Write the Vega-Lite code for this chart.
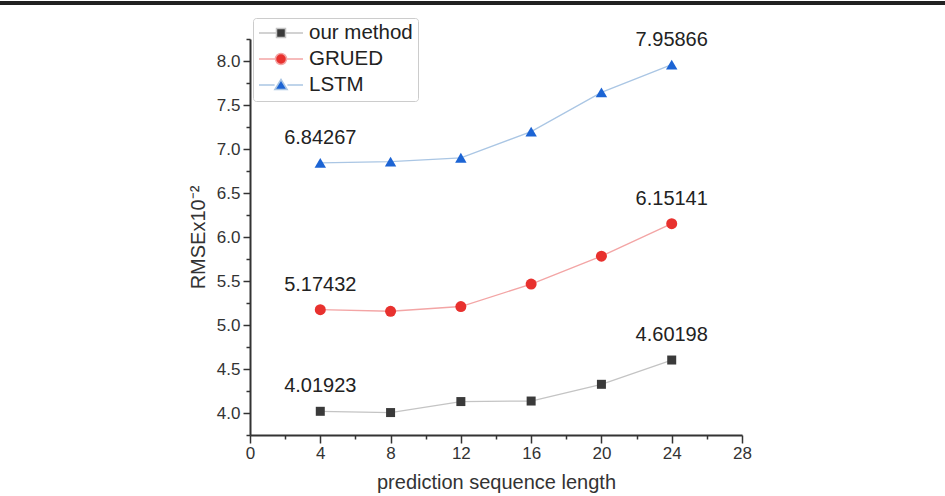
{
  "$schema": "https://vega.github.io/schema/vega-lite/v6.json",
  "width": 492,
  "height": 396,
  "autosize": {"type": "none"},
  "padding": {"left": 250, "top": 39, "right": 203, "bottom": 61},
  "background": "white",
  "config": {
    "view": {"stroke": null},
    "font": "Liberation Sans"
  },
  "data": {
    "values": [
      {"x": 4, "value": 4.01923, "series": "our method"},
      {"x": 8, "value": 4.005, "series": "our method"},
      {"x": 12, "value": 4.13, "series": "our method"},
      {"x": 16, "value": 4.136, "series": "our method"},
      {"x": 20, "value": 4.326, "series": "our method"},
      {"x": 24, "value": 4.60198, "series": "our method"},
      {"x": 4, "value": 5.17432, "series": "GRUED"},
      {"x": 8, "value": 5.156, "series": "GRUED"},
      {"x": 12, "value": 5.21, "series": "GRUED"},
      {"x": 16, "value": 5.465, "series": "GRUED"},
      {"x": 20, "value": 5.782, "series": "GRUED"},
      {"x": 24, "value": 6.15141, "series": "GRUED"},
      {"x": 4, "value": 6.84267, "series": "LSTM"},
      {"x": 8, "value": 6.856, "series": "LSTM"},
      {"x": 12, "value": 6.9, "series": "LSTM"},
      {"x": 16, "value": 7.197, "series": "LSTM"},
      {"x": 20, "value": 7.644, "series": "LSTM"},
      {"x": 24, "value": 7.95866, "series": "LSTM"}
    ]
  },
  "encoding": {
    "x": {
      "field": "x",
      "type": "quantitative",
      "scale": {"domain": [0, 28], "nice": false, "zero": false},
      "axis": {
        "title": "prediction sequence length",
        "values": [0, 2, 4, 6, 8, 10, 12, 14, 16, 18, 20, 22, 24, 26, 28],
        "labelExpr": "datum.value % 4 === 0 ? datum.label : ''",
        "tickSize": {"condition": {"test": "datum.value % 4 === 0", "value": 8}, "value": 4},
        "grid": false,
        "domainColor": "#333333",
        "domainWidth": 2,
        "tickColor": "#333333",
        "tickWidth": 1.5,
        "labelFontSize": 17,
        "labelColor": "#333333",
        "labelPadding": 2,
        "labelFlush": false,
        "labelOverlap": false,
        "titleFontSize": 20,
        "titleFontWeight": "normal",
        "titleColor": "#333333",
        "titlePadding": 11
      }
    },
    "y": {
      "field": "value",
      "type": "quantitative",
      "scale": {"domain": [3.75, 8.25], "nice": false, "zero": false},
      "axis": {
        "title": "RMSEx10⁻²",
        "values": [3.75, 4, 4.25, 4.5, 4.75, 5, 5.25, 5.5, 5.75, 6, 6.25, 6.5, 6.75, 7, 7.25, 7.5, 7.75, 8, 8.25],
        "labelExpr": "abs(datum.value * 2 - round(datum.value * 2)) < 0.01 ? format(datum.value, '.1f') : ''",
        "tickSize": {"condition": {"test": "abs(datum.value * 2 - round(datum.value * 2)) < 0.01", "value": 7}, "value": 4},
        "grid": false,
        "domainColor": "#333333",
        "domainWidth": 2,
        "tickColor": "#333333",
        "tickWidth": 1.5,
        "labelFontSize": 17,
        "labelColor": "#333333",
        "labelPadding": 3,
        "labelFlush": false,
        "labelOverlap": false,
        "titleFontSize": 20,
        "titleFontWeight": "normal",
        "titleColor": "#333333",
        "titlePadding": 8
      }
    }
  },
  "layer": [
    {
      "mark": {"type": "rule", "clip": false, "color": "#222222", "strokeWidth": 2.5},
      "encoding": {
        "x": {"datum": -14.3, "type": "quantitative", "scale": {"domain": [0, 28], "nice": false, "zero": false}},
        "x2": {"datum": 39.6},
        "y": {"datum": 8.659, "type": "quantitative", "scale": {"domain": [3.75, 8.25], "nice": false, "zero": false}}
      }
    },
    {
      "mark": {"type": "line", "strokeWidth": 1.3},
      "encoding": {
        "color": {
          "field": "series",
          "type": "nominal",
          "scale": {"range": ["#f3a5a5", "#aac6e4", "#c4c4c4"]},
          "legend": null
        }
      }
    },
    {
      "transform": [{"filter": "false"}],
      "mark": {"type": "point", "filled": true, "opacity": 1},
      "encoding": {
        "fill": {
          "field": "series",
          "type": "nominal",
          "scale": {"domain": ["our method", "GRUED", "LSTM"], "range": ["#3a3a3a", "#e8312e", "#1c64d4"]},
          "legend": {
            "title": null,
            "orient": "none",
            "legendX": 3,
            "legendY": -21,
            "symbolSize": 1936,
            "symbolStrokeWidth": 1.5,
            "symbolOpacity": 1,
            "clipHeight": 20,
            "labelFontSize": 20.5,
            "labelColor": "#222222",
            "labelOffset": 5,
            "padding": 5,
            "rowPadding": 5,
            "strokeColor": "#cccccc",
            "fillColor": "#ffffff",
            "cornerRadius": 3
          }
        },
        "stroke": {
          "field": "series",
          "type": "nominal",
          "scale": {"domain": ["our method", "GRUED", "LSTM"], "range": ["#c4c4c4", "#f3a5a5", "#aac6e4"]}
        },
        "shape": {
          "field": "series",
          "type": "nominal",
          "scale": {
            "domain": ["our method", "GRUED", "LSTM"],
            "range": [
              "M-1,0H-0.21M0.21,0H1M-0.205,-0.205H0.205V0.205H-0.205Z",
              "M-1,0H-0.26M0.26,0H1M0.25,0A0.25,0.25,0,1,1,-0.25,0A0.25,0.25,0,1,1,0.25,0Z",
              "M-1,0H-0.29M0.29,0H1M0,-0.25L0.28,0.21L-0.28,0.21Z"
            ]
          }
        }
      }
    },
    {
      "transform": [{"filter": "datum.series === 'our method'"}],
      "mark": {"type": "point", "shape": "square", "filled": true, "color": "#3a3a3a", "size": 81, "opacity": 1}
    },
    {
      "transform": [{"filter": "datum.series === 'GRUED'"}],
      "mark": {"type": "point", "shape": "circle", "filled": true, "color": "#e8312e", "size": 121, "opacity": 1}
    },
    {
      "transform": [{"filter": "datum.series === 'LSTM'"}],
      "mark": {"type": "point", "shape": "triangle-up", "filled": true, "color": "#1c64d4", "size": 130, "opacity": 1}
    },
    {
      "transform": [{"filter": "datum.x === 4 || datum.x === 24"}],
      "mark": {"type": "text", "dy": -25, "fontSize": 20, "color": "#222222", "baseline": "middle"},
      "encoding": {
        "text": {"field": "value", "type": "quantitative", "format": ".5f"}
      }
    }
  ]
}
